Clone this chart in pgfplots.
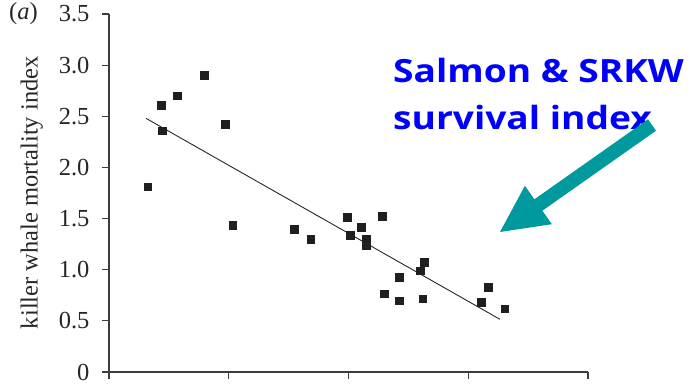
\documentclass[border=0pt]{standalone}
\usepackage{fontspec}
\setmainfont{Liberation Serif}
\newfontfamily\annfont{Open Sans}[FakeStretch=1.16]
\usepackage{pgfplots}
\pgfplotsset{compat=1.18}
\definecolor{annblue}{RGB}{0,0,255}
\definecolor{annteal}{RGB}{0,153,158}
\definecolor{axgray}{RGB}{60,60,60}
\begin{document}
\begin{tikzpicture}
\path[use as bounding box] (0,0) rectangle (690bp,385bp);
\begin{axis}[
  at={(109bp,13bp)}, anchor=south west,
  scale only axis, width=479bp, height=358bp,
  xmin=0, xmax=4, ymin=0, ymax=3.5,
  axis x line=bottom, axis y line=left,
  axis line style={-, color=axgray, line width=1.1bp},
  tick style={color=axgray, line width=1.1bp},
  tick align=outside, major tick length=7bp,
  xtick={0,1,2,3,4}, xticklabels={},
  ytick={0,0.5,1,1.5,2,2.5,3,3.5},
  yticklabels={0,0.5,1.0,1.5,2.0,2.5,3.0,3.5},
  yticklabel style={font=\fontsize{24.5bp}{28bp}\selectfont, text=black!85, xshift=-9bp},
  ylabel={killer whale mortality index},
  ylabel style={font=\fontsize{24.5bp}{28bp}\selectfont, text=black!85, at={(axis description cs:-0.161,0.501)}, anchor=center, inner sep=0pt},
  clip=false,
]
\addplot[only marks, mark=square*, mark size=3.8bp, color=black!88] coordinates {
(0.323,1.811) (0.434,2.610) (0.445,2.359) (0.568,2.701) (0.793,2.903)
(0.971,2.424) (1.033,1.437) (1.547,1.395) (1.684,1.300) (1.990,1.512)
(2.015,1.339) (2.104,1.414) (2.149,1.297) (2.149,1.235) (2.280,1.522)
(2.299,0.765) (2.424,0.929) (2.422,0.697) (2.600,0.990) (2.633,1.075)
(2.620,0.717) (3.106,0.681) (3.165,0.828) (3.304,0.619)
};
\addplot[no marks, color=black!85, line width=0.9bp] coordinates {(0.309,2.480) (3.265,0.515)};
\end{axis}
\node[anchor=base west, inner sep=0pt, font=\fontsize{24.5bp}{28bp}\selectfont, text=black!85] at (9bp,365.5bp) {(\textit{a})};
\node[anchor=base west, inner sep=0pt, font=\annfont\bfseries\fontsize{32bp}{38bp}\selectfont, text=annblue] at (393bp,302.3bp) {Salmon \& SRKW};
\node[anchor=base west, inner sep=0pt, font=\annfont\bfseries\fontsize{32bp}{38bp}\selectfont, text=annblue] at (393bp,255bp) {survival index};
\fill[annteal] (648bp,265.7bp) -- (656bp,254.3bp) -- (542.4bp,174.3bp) -- (551.9bp,160.8bp) -- (500bp,153bp) -- (524.9bp,199.2bp) -- (534.4bp,185.7bp) -- cycle;
\end{tikzpicture}
\end{document}
